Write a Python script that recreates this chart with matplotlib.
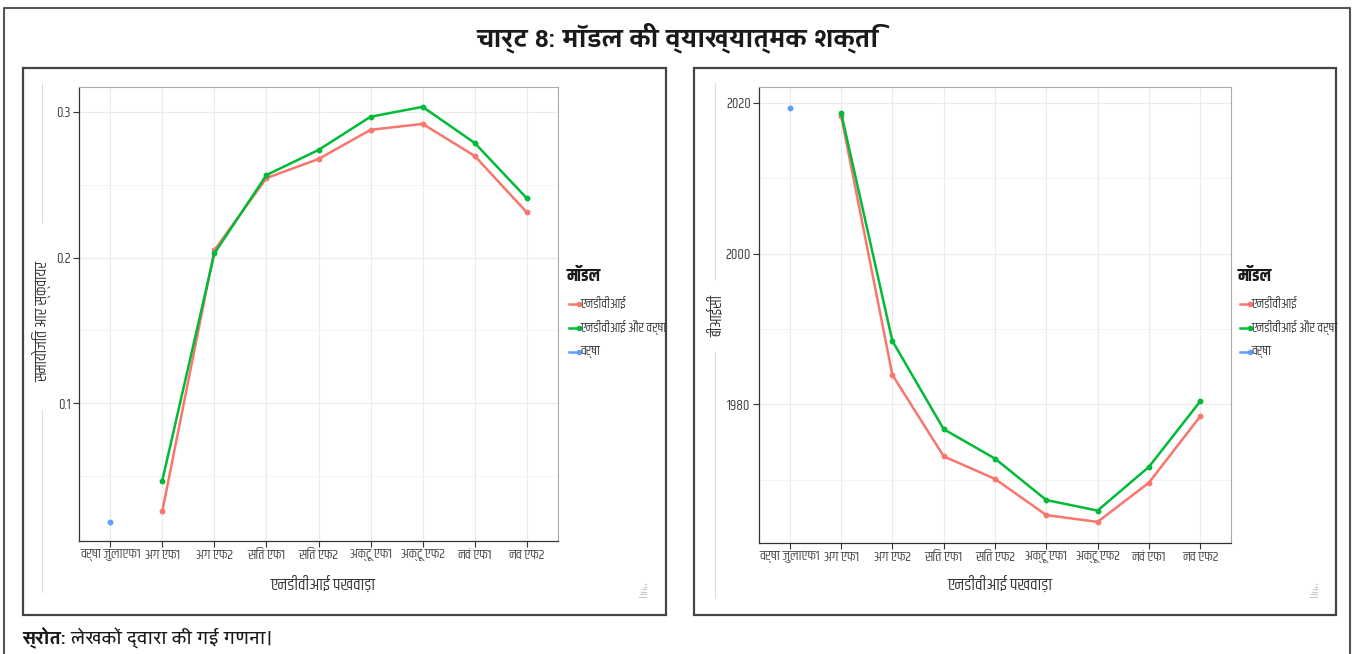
import matplotlib
matplotlib.use("Agg")
import matplotlib.pyplot as plt
from matplotlib import font_manager as fm
from matplotlib.lines import Line2D
from matplotlib.patches import Rectangle

# ---------------- data ----------------
categories = ["वर्षा जुलाएफ1", "अग एफ1", "अग एफ2", "सितं एफ1", "सितं एफ2",
              "अक्टू एफ1", "अक्टू एफ2", "नवं एफ1", "नव एफ2"]
series_names = ["एनडीवीआई", "एनडीवीआई और वर्षा", "वर्षा"]

r2_ndvi = [None, 0.026, 0.205, 0.2545, 0.2676, 0.2876, 0.2917, 0.2697, 0.231]
r2_ndvi_rain = [None, 0.047, 0.2028, 0.2566, 0.2738, 0.2966, 0.3034, 0.2786, 0.2407]
r2_rain = [0.0186, None, None, None, None, None, None, None, None]

bic_ndvi = [None, 2018.3, 1983.9, 1973.1, 1970.1, 1965.3, 1964.4, 1969.6, 1978.4]
bic_ndvi_rain = [None, 2018.7, 1988.4, 1976.7, 1972.8, 1967.3, 1965.9, 1971.7, 1980.4]
bic_rain = [2019.3, None, None, None, None, None, None, None, None]

r2_ticks = [0.1, 0.2, 0.3]
r2_minor = [0.05, 0.15, 0.25]
bic_ticks = [1980, 2000, 2020]
bic_minor = [1970, 1990, 2010]

title = "चार्ट 8: मॉडल की व्याख्यात्मक शक्ति"
xlabel = "एनडीवीआई पखवाड़ा"
ylabels = ["समायोजित आर स्क्वायर", "बीआईसी"]
legend_title = "मॉडल"
source_bold = "स्रोत:"
source_text = " लेखकों द्वारा की गई गणना।"

colors = ["#F8766D", "#00BA38", "#619CFF"]

# ---------------- fonts ----------------
names = {f.name for f in fm.fontManager.ttflist}

def pick(cands):
    for c in cands:
        if c in names:
            return [c, "DejaVu Sans"]
    return ["DejaVu Sans"]

title_fam = pick(["Yantramanav", "Hind", "Mukta"])
body_fam = pick(["Khand", "Teko", "Rajdhani", "Yantramanav", "Hind", "Mukta"])
condensed = body_fam[0] in ("Khand", "Teko", "Rajdhani")
k = 1.0 if condensed else 0.85
plt.rcParams["font.family"] = body_fam

W, H = 1354, 654
fig = plt.figure(figsize=(W / 100, H / 100), dpi=100)

def fx(x):
    return x / W

def fy(y):
    return 1 - y / H

# outer frame (left, top, right)
fig.add_artist(Line2D([fx(4), fx(4), fx(1350), fx(1350)],
                      [fy(654), fy(8), fy(8), fy(654)],
                      color="#555555", lw=1.5, transform=fig.transFigure))

fig.text(fx(678), fy(38), title, ha="center", va="center", family=title_fam,
         fontsize=19.5, fontweight="bold", color="#1a1a1a")

# source
t = fig.text(fx(22), fy(638), source_bold, ha="left", va="center",
             family=title_fam, fontsize=14, fontweight="bold", color="#1a1a1a")
fig.canvas.draw()
bb = t.get_window_extent()
fig.text(bb.x1 / W, fy(638), source_text, ha="left", va="center",
         family=title_fam, fontsize=14, color="#1a1a1a")

panels = [
    dict(box=(23, 68, 666, 615), ax=(79, 87, 558, 541), ylim=(0.0055, 0.317),
         ticks=r2_ticks, minor=r2_minor, fmt="{:.1f}",
         data=[r2_ndvi, r2_ndvi_rain, r2_rain], ylabel=ylabels[0],
         ylab_x=42, ylab_y=322, xlab_x=323, leg_x=567, faint_x=42,
         gaps=[(83, 222), (410, 592)], grip=643),
    dict(box=(694, 68, 1336, 615), ax=(759, 87, 1231, 543), ylim=(1961.6, 2022.1),
         ticks=bic_ticks, minor=bic_minor, fmt="{:d}",
         data=[bic_ndvi, bic_ndvi_rain, bic_rain], ylabel=ylabels[1],
         ylab_x=716, ylab_y=316, xlab_x=1000, leg_x=1238, faint_x=715,
         gaps=[(83, 279), (352, 597)], grip=1314),
]

for p in panels:
    x0, y0, x1, y1 = p["box"]
    fig.add_artist(Rectangle((fx(x0), fy(y1)), fx(x1 - x0), (y1 - y0) / H,
                             transform=fig.transFigure, fill=False,
                             edgecolor="#444444", lw=1.6))
    # faint decoration lines
    fx0 = p["faint_x"]
    for ya, yb in p["gaps"]:
        fig.add_artist(Line2D([fx(fx0), fx(fx0)], [fy(ya), fy(yb)],
                              color="#dddddd", lw=0.8, transform=fig.transFigure))
    # resize grip
    g = p["grip"]
    for j in range(6):
        yy = 584 + j * 2.5
        w = 1 + j * 1.3
        fig.add_artist(Line2D([fx(g + 3 - w), fx(g + 3)], [fy(yy), fy(yy)],
                              color="#c8c8c8", lw=0.8, transform=fig.transFigure))

    ax0, ay0, ax1, ay1 = p["ax"]
    ax = fig.add_axes([fx(ax0), fy(ay1), fx(ax1 - ax0), (ay1 - ay0) / H])
    xs = list(range(len(categories)))
    for vals, c, nm in zip(p["data"], colors, series_names):
        px = [x for x, v in zip(xs, vals) if v is not None]
        py = [v for v in vals if v is not None]
        ax.plot(px, py, color=c, lw=1.8, marker="o", ms=3.2, label=nm, zorder=3)
    ax.set_xlim(-0.6, len(categories) - 1 + 0.6)
    ax.set_ylim(*p["ylim"])
    ax.set_xticks(xs)
    ax.set_xticklabels(categories, fontsize=10 * k, color="#444444")
    ax.set_yticks(p["ticks"])
    ax.set_yticklabels([p["fmt"].format(v) for v in p["ticks"]], fontsize=10.5 * k,
                       color="#444444")
    ax.set_yticks(p["minor"], minor=True)
    ax.grid(True, which="major", color="#ebebeb", lw=0.8)
    ax.grid(True, which="minor", axis="y", color="#f2f2f2", lw=0.6)
    ax.set_axisbelow(True)
    for s in ["top", "right"]:
        ax.spines[s].set_color("#aaaaaa")
        ax.spines[s].set_linewidth(0.8)
    for s in ["left", "bottom"]:
        ax.spines[s].set_color("#333333")
        ax.spines[s].set_linewidth(0.9)
    ax.tick_params(which="major", length=4, color="#333333", width=0.8, pad=2)
    ax.tick_params(which="minor", length=0)

    fig.text(fx(p["ylab_x"]), fy(p["ylab_y"]), p["ylabel"], rotation=90,
             ha="center", va="center", fontsize=11.5 * k, color="#333333")
    fig.text(fx(p["xlab_x"]), fy(584), xlabel, ha="center", va="center",
             fontsize=12.5 * k, color="#333333")

    # legend
    lx = p["leg_x"]
    fig.text(fx(lx), fy(275), legend_title, ha="left", va="center",
             fontsize=12.5 * k, fontweight="bold", color="#1a1a1a")
    for i, (c, nm) in enumerate(zip(colors, series_names)):
        yy = 304 + i * 24
        fig.add_artist(Line2D([fx(lx + 2), fx(lx + 12)], [fy(yy), fy(yy)],
                              color=c, lw=1.8, marker="o", ms=3,
                              markevery=[1], transform=fig.transFigure))
        fig.text(fx(lx + 13), fy(yy), nm, ha="left", va="center",
                 fontsize=9.5 * k, color="#333333")

fig.savefig("out.png", dpi=100)
